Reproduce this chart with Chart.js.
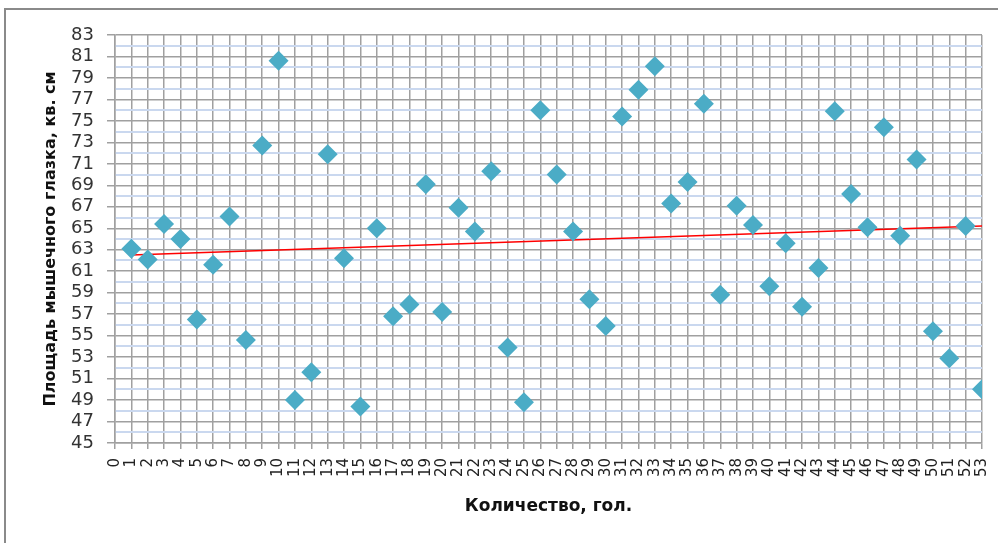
<!DOCTYPE html>
<html><head><meta charset="utf-8">
<script src="https://cdn.jsdelivr.net/npm/chart.js@4/dist/chart.umd.min.js"></script>
<style>
html,body{margin:0;padding:0;background:#fff;}
#wrap{position:relative;width:998px;height:543px;overflow:hidden;background:#fff;}
#frame{position:absolute;left:4px;top:8px;width:1100px;height:700px;border:2px solid #8a8a8a;box-sizing:border-box;}
#c{position:absolute;left:0;top:0;}
</style></head><body>
<div id="wrap"><div id="frame"></div><canvas id="c" width="998" height="543"></canvas></div>
<script>
// Data
const xValues = [1,2,3,4,5,6,7,8,9,10,11,12,13,14,15,16,17,18,19,20,21,22,23,24,25,26,27,28,29,30,31,32,33,34,35,36,37,38,39,40,41,42,43,44,45,46,47,48,49,50,51,52,53];
const areaValues = [63.1,62.1,65.4,64.0,56.5,61.6,66.1,54.6,72.7,80.6,49.0,51.6,71.9,62.2,48.4,65.0,56.8,57.9,69.1,57.2,66.9,64.7,70.3,53.9,48.8,76.0,70.0,64.7,58.4,55.9,75.4,77.9,80.1,67.3,69.3,76.6,58.8,67.1,65.3,59.6,63.6,57.7,61.3,75.9,68.2,65.1,74.4,64.3,71.4,55.4,52.9,65.2,50.0];
const trendX = [1,53];
const trendY = [62.5,65.2];
const yTickLabels = [45,47,49,51,53,55,57,59,61,63,65,67,69,71,73,75,77,79,81,83];
const xTitle = 'Количество, гол.';
const yTitle = 'Площадь мышечного глазка, кв. см';

Chart.defaults.font.family = "'DejaVu Sans', sans-serif";
const GRAY = '#a0a0a0';
const BLUE = '#cad8ef';

new Chart(document.getElementById('c'), {
  type: 'scatter',
  data: {
    datasets: [
      {
        data: xValues.map((x, i) => ({x: x, y: areaValues[i]})),
        pointStyle: 'rectRot',
        pointRadius: 10,
        pointHoverRadius: 10,
        backgroundColor: '#4bacc6',
        borderColor: '#4bacc6',
        borderWidth: 0
      },
      {
        data: trendX.map((x, i) => ({x: x, y: trendY[i]})),
        showLine: true,
        pointRadius: 0,
        borderColor: '#ff0000',
        borderWidth: 1.5,
        fill: false
      }
    ]
  },
  options: {
    responsive: false,
    devicePixelRatio: 1,
    animation: false,
    layout: {padding: {left: 0, top: 35, right: 16, bottom: 0}},
    plugins: {legend: {display: false}, tooltip: {enabled: false}},
    scales: {
      x: {
        type: 'linear',
        min: 0, max: 53,
        afterFit: s => { s.height = 100; s.paddingLeft = 0; s.paddingRight = 0; },
        ticks: {
          stepSize: 1, autoSkip: false, minRotation: 90, maxRotation: 90,
          padding: 9, color: '#222', font: {size: 15},
          callback: v => String(v)
        },
        grid: {color: GRAY, lineWidth: 1.5, tickLength: 6, tickColor: GRAY},
        border: {color: GRAY, width: 1.5},
        title: {display: true, text: xTitle, color: '#111', font: {size: 17, weight: 'bold'}, padding: {top: 0, bottom: 26}}
      },
      y: {
        min: 45, max: 83,
        afterFit: s => { s.width = 115; s.paddingTop = 0; s.paddingBottom = 0; },
        ticks: {
          stepSize: 1, autoSkip: false, padding: 13, color: '#333', font: {size: 18},
          callback: v => yTickLabels.includes(v) ? String(v) : ''
        },
        grid: {
          color: c => (yTickLabels.includes(c.tick.value) ? GRAY : BLUE),
          lineWidth: c => (yTickLabels.includes(c.tick.value) ? 1.5 : 2),
          tickColor: c => (yTickLabels.includes(c.tick.value) ? GRAY : 'rgba(0,0,0,0)'),
          tickLength: 8
        },
        border: {color: GRAY, width: 1.5},
        title: {display: true, text: yTitle, color: '#111', font: {size: 16, weight: 'bold'}, padding: {top: 41, bottom: 0}}
      }
    }
  }
});
</script>
</body></html>
